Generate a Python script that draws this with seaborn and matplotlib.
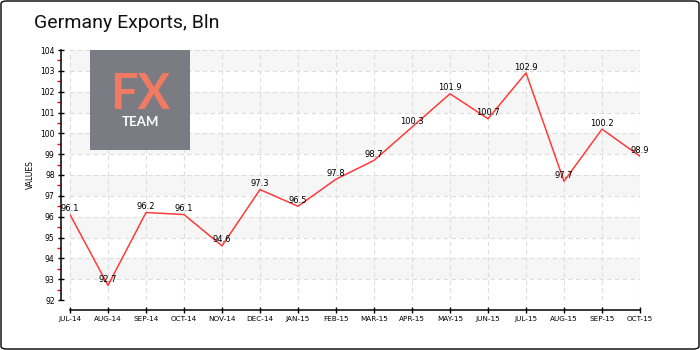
import matplotlib
matplotlib.use("Agg")
import matplotlib.pyplot as plt
import seaborn as sns
import pandas as pd
import numpy as np
from matplotlib.patches import Rectangle, FancyBboxPatch

months = ["JUL-14", "AUG-14", "SEP-14", "OCT-14", "NOV-14", "DEC-14", "JAN-15", "FEB-15",
          "MAR-15", "APR-15", "MAY-15", "JUN-15", "JUL-15", "AUG-15", "SEP-15", "OCT-15"]
values = [96.1, 92.7, 96.2, 96.1, 94.6, 97.3, 96.5, 97.8,
          98.7, 100.3, 101.9, 100.7, 102.9, 97.7, 100.2, 98.9]
y_ticks = list(range(92, 105))
title = "Germany Exports, Bln"
y_label = "VALUES"

df = pd.DataFrame({"month": months, "value": values, "pos": range(len(months))})

sns.set_theme(style="white")
plt.rcParams['font.family'] = ['DejaVu Sans']

W, H = 700, 350
fig = plt.figure(figsize=(7, 3.5), dpi=100)
ax = fig.add_axes([70 / W, 1 - 300 / H, (640 - 70) / W, (300 - 50) / H])

# alternating bands
for lo in range(93, 104, 2):
    ax.axhspan(lo, lo + 1, color="#f6f6f6", zorder=0, lw=0)

sns.lineplot(data=df, x="pos", y="value", color="#ff3b3b", linewidth=1.1, ax=ax, zorder=3)

for x, v in zip(df["pos"], df["value"]):
    ax.annotate(f"{v:g}", (x, v), xytext=(0, 1), textcoords="offset points",
                ha="center", va="bottom", fontsize=6, color="black", zorder=4)

ax.set_xlim(0, len(months) - 1)
ax.set_ylim(92, 104)
ax.set_xticks(df["pos"])
ax.set_xticklabels(months)
ax.set_yticks(y_ticks)
ax.set_yticklabels([str(t) for t in y_ticks])
ax.set_yticks(np.arange(92.5, 104, 1.0), minor=True)
ax.tick_params(axis="y", which="minor", direction="out", length=3, color="#ff0000", width=1, left=True)
ax.tick_params(axis="y", which="major", direction="inout", length=5, color="black", width=1,
               left=True, pad=2, labelsize=5.5, labelcolor="black")
ax.tick_params(axis="x", which="major", direction="inout", length=5, color="black", width=1,
               bottom=True, pad=2, labelsize=5.2, labelcolor="black")

ax.grid(True, which="major", color="#dddddd", linestyle=(0, (4, 3)), linewidth=0.8)
ax.set_axisbelow(True)

for s in ["top", "right"]:
    ax.spines[s].set_visible(False)
ax.spines["left"].set_position(("outward", 6.5))
ax.spines["bottom"].set_position(("outward", 7.2))
for s in ["left", "bottom"]:
    ax.spines[s].set_color("black")
    ax.spines[s].set_linewidth(1.1)

ax.set_xlabel("")
ax.set_ylabel(y_label, fontsize=5.5, labelpad=4, color="black")

# title
fig.text(34 / W, 1 - 23 / H, title, fontsize=14, family="Roboto", color="#111111", va="center", ha="left")

# logo
fig.patches.append(Rectangle((90 / W, 1 - 150 / H), 100 / W, 100 / H, transform=fig.transFigure,
                             facecolor="#7b7b83", edgecolor="none", zorder=5))
fig.text(140 / W, 1 - 95 / H, "FX", fontsize=35, family="Lato", weight="bold", color="#f07a62",
         ha="center", va="center", zorder=6)
fig.text(140 / W, 1 - 122 / H, "TEAM", fontsize=9.5, family="Lato", weight="bold", color="white",
         ha="center", va="center", zorder=6)

# border
fig.patches.append(FancyBboxPatch((1 / W, 1 / H), 698 / W, 348 / H, boxstyle="round,pad=0,rounding_size=0.008",
                                  transform=fig.transFigure, facecolor="none", edgecolor="black", lw=1))

fig.savefig("out.png", dpi=100)
